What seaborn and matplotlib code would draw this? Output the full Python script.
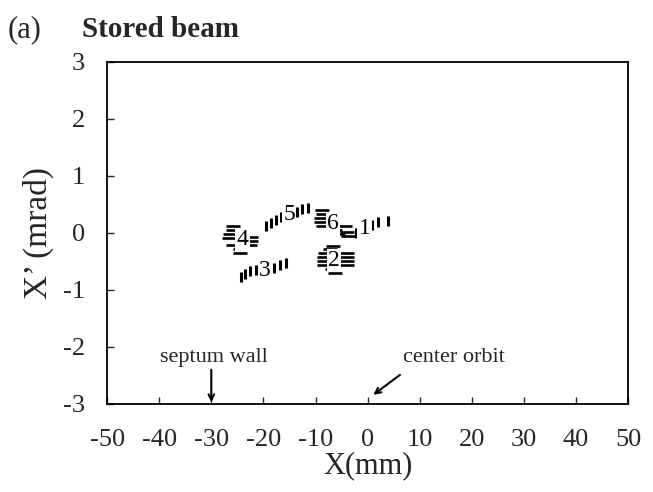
import pandas as pd
import seaborn as sns
import matplotlib.pyplot as plt

# beam centroid marks (X in mm, X' in mrad)
# horizontal dash clusters: groups 4, 2, 6
h_group = ["4"] * 10 + ["2"] * 12 + ["6"] * 10
h_x = [-25.8, -25.8, -26.4, -26.6, -22.4, -22.4, -25.8, -24.5, -24.5, -22.6,
       -6.6, -7.2, -8.2, -4.0, -8.4, -4.0, -8.4, -4.0, -8.4, -4.0, -6.8, -6.2,
       -8.7, -8.5, -8.9, -8.9, -8.5, -4.3, -6.2, -5.7, -4.0, -3.8]
h_y = [0.12, 0.05, -0.02, -0.09, -0.07, -0.14, -0.21, -0.28, -0.35, -0.21,
       -0.23, -0.28, -0.35, -0.35, -0.42, -0.42, -0.49, -0.49, -0.56, -0.56, -0.63, -0.70,
       0.40, 0.33, 0.26, 0.19, 0.12, 0.12, 0.05, -0.02, 0.02, -0.05]

# vertical dash rows: groups 5, 3, 1
v_group = ["5"] * 7 + ["3"] * 7 + ["1"] * 4
v_x = [-19.5, -18.5, -17.6, -16.6, -13.5, -12.6, -11.4,
       -24.3, -23.5, -22.6, -21.4, -17.9, -16.8, -15.6,
       -2.2, 0.9, 2.0, 3.9]
v_y = [0.12, 0.18, 0.23, 0.28, 0.37, 0.42, 0.44,
       -0.77, -0.72, -0.67, -0.65, -0.61, -0.56, -0.53,
       0.0, 0.14, 0.19, 0.21]

label_text = ["1", "2", "3", "4", "5", "6"]
label_x = [-0.6, -6.4, -19.7, -24.0, -15.1, -6.6]
label_y = [0.07, -0.48, -0.65, -0.12, 0.32, 0.16]

x_ticks = [-50, -40, -30, -20, -10, 0, 10, 20, 30, 40, 50]
y_ticks = [-3, -2, -1, 0, 1, 2, 3]

h_df = pd.DataFrame({"x": h_x, "y": h_y, "group": h_group})
v_df = pd.DataFrame({"x": v_x, "y": v_y, "group": v_group})

sns.set_style("ticks")
plt.rcParams["font.family"] = ["Liberation Serif", "DejaVu Serif"]
plt.rcParams["axes.unicode_minus"] = False

fig = plt.figure(figsize=(6.53, 4.92), dpi=100)
ax = fig.add_axes([0.164, 0.179, 0.798, 0.695])

sns.scatterplot(data=h_df, x="x", y="y", marker="_", s=100, color="black",
                linewidth=1.9, legend=False, ax=ax, zorder=2)
sns.scatterplot(data=v_df, x="x", y="y", marker="|", s=60, color="black",
                linewidth=2.2, legend=False, ax=ax, zorder=2)

for t, lx, ly in zip(label_text, label_x, label_y):
    ax.text(lx, ly, t, fontsize=17, ha="center", va="center", color="black",
            zorder=3, bbox=dict(boxstyle="square,pad=0.05", fc="white", ec="none"))

ax.set_xlim(-50, 50)
ax.set_ylim(-3, 3)
ax.set_xticks(x_ticks)
ax.set_yticks(y_ticks)
ax.tick_params(direction="in", length=5, width=1, labelsize=19)
ax.tick_params(axis="x", pad=18)
ax.tick_params(axis="y", pad=16)
for side in ["top", "right", "bottom", "left"]:
    ax.spines[side].set_visible(True)
    ax.spines[side].set_linewidth(1.3)
    ax.spines[side].set_color("black")

ax.set_xlabel("X(mm)", fontsize=22, labelpad=0)
ax.set_ylabel("X\u2019 (mrad)", fontsize=24, labelpad=6)

ax.text(-29.5, -2.18, "septum wall", fontsize=16, ha="center", va="center")
ax.annotate("", xy=(-30, -2.97), xytext=(-30, -2.4),
            arrowprops=dict(arrowstyle="->", color="black", lw=1.5,
                            shrinkA=0, shrinkB=0))
ax.text(16.5, -2.18, "center orbit", fontsize=16, ha="center", va="center")
ax.annotate("", xy=(1.1, -2.84), xytext=(6.2, -2.49),
            arrowprops=dict(arrowstyle="->", color="black", lw=1.5,
                            shrinkA=0, shrinkB=0))

fig.text(0.012, 0.94, "(a)", fontsize=22, va="center")
fig.text(0.125, 0.94, "Stored beam", fontsize=21, fontweight="bold", va="center")

fig.savefig("out.png", dpi=100)
